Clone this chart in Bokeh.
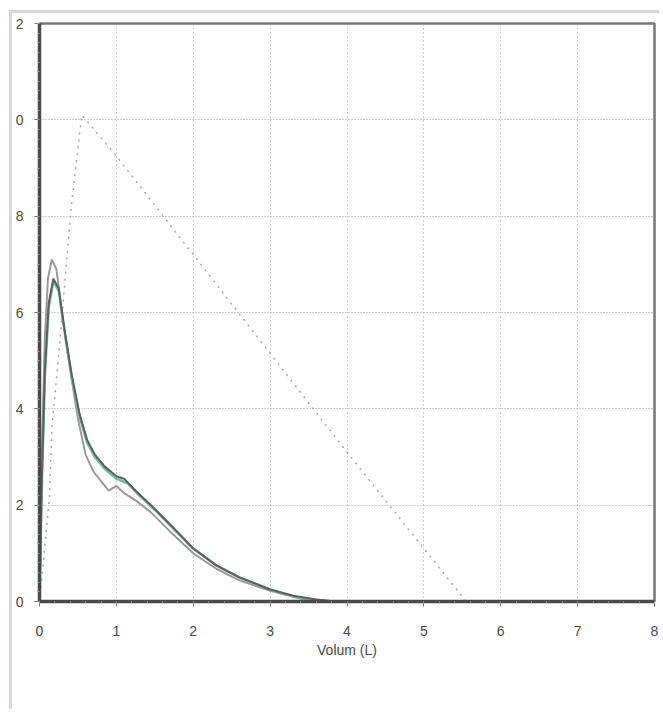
from bokeh.plotting import figure
from bokeh.models import FixedTicker, Range1d
from bokeh.embed import file_html
from bokeh.resources import INLINE

# Predicted (reference) curve
pred_x = [0.0, 0.05, 0.13, 0.16, 0.26, 0.41, 0.55, 1.0, 2.0, 3.0, 4.0, 5.0, 5.55]
pred_y = [0.0, 0.8, 2.2, 3.6, 5.3, 8.15, 10.1, 9.25, 7.2, 5.15, 3.1, 1.1, 0.0]

# Measured curve 1 (dark gray)
m1_x = [0.0, 0.03, 0.07, 0.12, 0.18, 0.25, 0.33, 0.42, 0.52, 0.62, 0.72, 0.85, 1.0, 1.1, 1.25, 1.45, 1.7, 2.0, 2.3, 2.6, 3.0, 3.3, 3.6, 3.85]
m1_y = [0.0, 2.5, 4.8, 6.2, 6.7, 6.5, 5.6, 4.7, 3.9, 3.35, 3.05, 2.8, 2.6, 2.55, 2.3, 2.0, 1.6, 1.1, 0.75, 0.5, 0.25, 0.12, 0.04, 0.0]

# Measured curve 2 (light gray, higher peak)
m2_x = [0.0, 0.03, 0.07, 0.11, 0.16, 0.22, 0.3, 0.4, 0.5, 0.6, 0.7, 0.8, 0.9, 1.0, 1.1, 1.25, 1.45, 1.7, 2.0, 2.3, 2.6, 3.0, 3.4, 3.8]
m2_y = [0.0, 3.0, 5.5, 6.7, 7.1, 6.9, 5.9, 4.8, 3.8, 3.05, 2.7, 2.5, 2.3, 2.4, 2.25, 2.1, 1.85, 1.45, 1.0, 0.68, 0.44, 0.22, 0.06, 0.0]

# Measured curve 3 (teal)
m3_x = [0.0, 0.03, 0.07, 0.12, 0.18, 0.25, 0.33, 0.42, 0.52, 0.62, 0.72, 0.85, 1.0, 1.15, 1.3, 1.5, 1.75, 2.0, 2.3, 2.6, 3.0, 3.4, 3.8]
m3_y = [0.0, 2.4, 4.7, 6.1, 6.65, 6.45, 5.55, 4.65, 3.85, 3.3, 3.0, 2.75, 2.55, 2.45, 2.2, 1.9, 1.5, 1.1, 0.75, 0.5, 0.25, 0.06, 0.0]

x_ticks = [0, 1, 2, 3, 4, 5, 6, 7, 8]
y_ticks = [0, 2, 4, 6, 8, 10, 12]
y_tick_labels = ["0", "2", "4", "6", "8", "0", "2"]
x_label = "Volum (L)"

p = figure(width=650, height=699, output_backend="svg", toolbar_location=None,
           x_range=Range1d(0, 8), y_range=Range1d(0, 12),
           min_border_left=25, min_border_top=10, min_border_right=8, min_border_bottom=111,
           styles={"margin-left": "9px", "margin-top": "10px",
                   "border-left": "3px solid #d9d5db", "border-top": "3px solid #d9d5db"})
p.background_fill_color = "white"
p.border_fill_color = "white"
p.outline_line_color = "#777777"
p.outline_line_width = 2.5

for ax in (p.xaxis[0], p.yaxis[0]):
    ax.axis_line_color = "#4a4a4a"
    ax.axis_line_width = 3.5
    ax.major_tick_line_color = "#777777"
    ax.minor_tick_line_color = "#999999"
    ax.major_tick_out = 5
    ax.major_tick_in = 0
    ax.minor_tick_out = 2
    ax.minor_tick_in = 0
    ax.major_label_text_font = "Liberation Sans"
    ax.major_label_text_font_size = "14px"
    ax.major_label_text_color = "#4a4a4a"

p.xaxis.ticker = FixedTicker(ticks=x_ticks, minor_ticks=[i / 5 for i in range(41)])
p.yaxis.ticker = FixedTicker(ticks=y_ticks, minor_ticks=[i / 5 for i in range(61)])
p.yaxis.major_label_overrides = {t: l for t, l in zip(y_ticks, y_tick_labels)}
p.xaxis.major_label_standoff = 19
p.yaxis.major_label_standoff = 11
p.xaxis.axis_label = x_label
p.xaxis.axis_label_text_font = "Liberation Sans"
p.xaxis.axis_label_text_font_size = "14px"
p.xaxis.axis_label_text_font_style = "normal"
p.xaxis.axis_label_text_color = "#4a4a4a"
p.xaxis.axis_label_standoff = 3

p.xgrid.grid_line_color = "#a0a0a0"
p.ygrid.grid_line_color = "#a0a0a0"
p.xgrid.grid_line_dash = "1 3"
p.ygrid.grid_line_dash = "1 2"
p.xgrid.grid_line_width = 1
p.ygrid.grid_line_width = 1.2

p.line(pred_x, pred_y, line_color="#a8a8a8", line_width=1.5, line_dash="2 5")
p.line(m2_x, m2_y, line_color="#9a9a9a", line_width=2)
p.line(m3_x, m3_y, line_color="#6fbfa8", line_width=2.5)
p.line(m1_x, m1_y, line_color="#5e5e5e", line_width=2)

open("out.html", "w").write(file_html(p, INLINE))
